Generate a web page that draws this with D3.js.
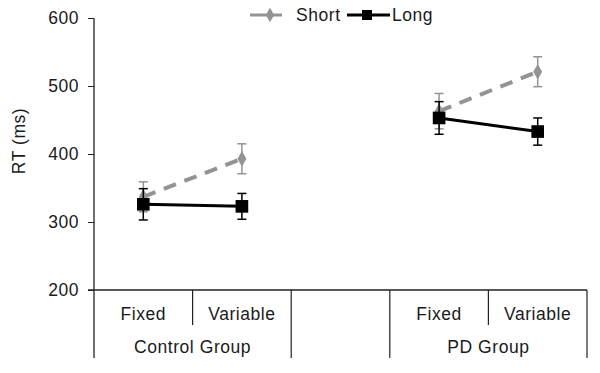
<!DOCTYPE html>
<html><head><meta charset="utf-8">
<script src="https://cdnjs.cloudflare.com/ajax/libs/d3/7.8.5/d3.min.js"></script>
<style>body{margin:0;background:#fff}text{font-family:"Liberation Sans",Arial,sans-serif;fill:#1a1a1a;letter-spacing:0.55px}</style>
</head><body><svg id="c" width="600" height="373"></svg>
<script>
const slots = ["CF","CV","GAP","PF","PV"];
const conditionLabels = ["Fixed","Variable","","Fixed","Variable"];
const groupLabels = ["Control Group","PD Group"];
const yTicks = [200,300,400,500,600];
const shortMean = [337,393,null,463,521];
const shortErr  = [22,22,null,26,22];
const longMean  = [326,323,null,453,433];
const longErr   = [23,19,null,24,20];
const seriesNames = ["Short","Long"];

const svg = d3.select("#c");
const x = d3.scaleBand().domain(slots).range([94,587]).padding(0);
const y = d3.scaleLinear().domain([200,600]).range([290,18]);
const fs = 17.5;

// y axis
const ya = svg.append("g").attr("transform","translate(94,0)")
  .call(d3.axisLeft(y).tickValues(yTicks).tickSize(6).tickPadding(9));
ya.select(".domain").remove();
ya.selectAll("line").attr("stroke","#222");
ya.selectAll("text").attr("font-size",fs).attr("font-family","Liberation Sans, Arial, sans-serif").attr("fill","#1a1a1a");
svg.append("line").attr("x1",94).attr("x2",94).attr("y1",y(600)).attr("y2",358).attr("stroke","#222").attr("stroke-width",1.3);
// x axis baseline
svg.append("line").attr("x1",88).attr("x2",x.range()[1]).attr("y1",y(200)).attr("y2",y(200)).attr("stroke","#222").attr("stroke-width",1.3);

// dividers
slots.forEach((s,i)=>{
  if(i===0) return;
  const xx = x(s);
  const full = (i===2||i===3);
  svg.append("line").attr("x1",xx).attr("x2",xx).attr("y1",y(200)).attr("y2",full?358:325).attr("stroke","#222").attr("stroke-width",1.2);
});
svg.append("line").attr("x1",x.range()[1]).attr("x2",x.range()[1]).attr("y1",y(200)).attr("y2",358).attr("stroke","#222").attr("stroke-width",1.2);

// condition labels
slots.forEach((s,i)=>{
  if(!conditionLabels[i]) return;
  svg.append("text").attr("x",x(s)+x.bandwidth()/2).attr("y",320).attr("text-anchor","middle")
    .attr("font-size",fs).text(conditionLabels[i]);
});
// group labels
const g1 = (x("CF")+x("CV")+x.bandwidth())/2;
const g2 = (x("PF")+x("PV")+x.bandwidth())/2;
[[g1,groupLabels[0]],[g2,groupLabels[1]]].forEach(([cx,t])=>{
  svg.append("text").attr("x",cx).attr("y",353).attr("text-anchor","middle").attr("font-size",fs).text(t);
});

// y title
svg.append("text").attr("transform",`translate(25,${(y(600)+y(200))/2-13}) rotate(-90)`)
  .attr("text-anchor","middle").attr("font-size",fs).text("RT (ms)");

const cx = s => x(s)+x.bandwidth()/2;
function drawSeries(means, errs, color, dash, width, marker){
  const pts = slots.map((s,i)=>({s,m:means[i],e:errs[i]})).filter(d=>d.m!=null);
  const seg1 = pts.slice(0,2), seg2 = pts.slice(2,4);
  const line = d3.line().x(d=>cx(d.s)).y(d=>y(d.m));
  pts.forEach(d=>{
    const g = svg.append("g").attr("stroke",color).attr("stroke-width",1.5);
    g.append("line").attr("x1",cx(d.s)).attr("x2",cx(d.s)).attr("y1",y(d.m+d.e)).attr("y2",y(d.m-d.e));
    g.append("line").attr("x1",cx(d.s)-4.5).attr("x2",cx(d.s)+4.5).attr("y1",y(d.m+d.e)).attr("y2",y(d.m+d.e));
    g.append("line").attr("x1",cx(d.s)-4.5).attr("x2",cx(d.s)+4.5).attr("y1",y(d.m-d.e)).attr("y2",y(d.m-d.e));
  });
  [seg1,seg2].forEach(seg=>{
    svg.append("path").attr("d",line(seg)).attr("fill","none").attr("stroke",color)
      .attr("stroke-width",width).attr("stroke-dasharray",dash);
  });
  pts.forEach(d=>{
    svg.append("path").attr("d",d3.symbol().type(marker==="sq"?d3.symbolSquare:d3.symbolDiamond).size(marker==="sq"?160:70)())
      .attr("transform",`translate(${cx(d.s)},${y(d.m)})`).attr("fill",color);
  });
}
drawSeries(shortMean, shortErr, "#939393", "13,9", 4, "di");
drawSeries(longMean, longErr, "#000", null, 3, "sq");

// legend
const lg = svg.append("g");
lg.append("line").attr("x1",250).attr("x2",282).attr("y1",15).attr("y2",15).attr("stroke","#939393").attr("stroke-width",3);
lg.append("path").attr("d",d3.symbol().type(d3.symbolDiamond).size(60)()).attr("transform","translate(270,15)").attr("fill","#939393");
lg.append("text").attr("x",296).attr("y",21).attr("font-size",fs).text(seriesNames[0]);
lg.append("line").attr("x1",347).attr("x2",390).attr("y1",15).attr("y2",15).attr("stroke","#000").attr("stroke-width",3);
lg.append("path").attr("d",d3.symbol().type(d3.symbolSquare).size(100)()).attr("transform","translate(367,15)").attr("fill","#000");
lg.append("text").attr("x",392).attr("y",21).attr("font-size",fs).text(seriesNames[1]);
</script></body></html>
